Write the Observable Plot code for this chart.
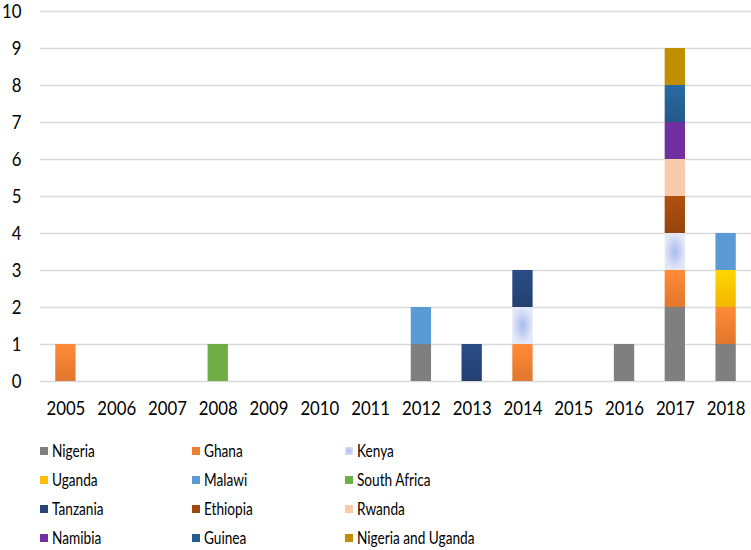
<!DOCTYPE html>
<html><head><meta charset="utf-8">
<script src="https://cdn.jsdelivr.net/npm/d3@7"></script>
<script src="https://cdn.jsdelivr.net/npm/@observablehq/plot@0.6"></script>
<style>
body{margin:0;background:#fff;font-family:"Lato",sans-serif;}
#legend{display:grid;grid-template-columns:152px 153px auto;padding-left:40px;margin-top:11px;}
.item{height:29px;display:flex;align-items:center;font-size:17.5px;color:#000;white-space:nowrap;}
.sw{width:8px;height:8px;margin-right:4px;display:inline-block;flex:none;}
.lbl{display:inline-block;transform:scaleX(0.78);transform-origin:left center;}
</style></head>
<body><div id="chart"></div><div id="legend"></div>
<script>
const years = ["2005","2006","2007","2008","2009","2010","2011","2012","2013","2014","2015","2016","2017","2018"];
const countries = ["Nigeria","Ghana","Kenya","Uganda","Malawi","South Africa","Tanzania","Ethiopia","Rwanda","Namibia","Guinea","Nigeria and Uganda"];
const colors = ["#7f7f7f","#ED7D31","#c9d4f3","#FFC000","#5B9BD5","#70AD47","#264478","#9E480E","#F8CBAD","#7030A0","#255E91","#BF8F00"];
// counts per year (2005..2018)
const nigeria          = [0,0,0,0,0,0,0,1,0,0,0,1,2,1];
const ghana            = [1,0,0,0,0,0,0,0,0,1,0,0,1,1];
const kenya            = [0,0,0,0,0,0,0,0,0,1,0,0,1,0];
const uganda           = [0,0,0,0,0,0,0,0,0,0,0,0,0,1];
const malawi           = [0,0,0,0,0,0,0,1,0,0,0,0,0,1];
const southAfrica      = [0,0,0,1,0,0,0,0,0,0,0,0,0,0];
const tanzania         = [0,0,0,0,0,0,0,0,1,1,0,0,0,0];
const ethiopia         = [0,0,0,0,0,0,0,0,0,0,0,0,1,0];
const rwanda           = [0,0,0,0,0,0,0,0,0,0,0,0,1,0];
const namibia          = [0,0,0,0,0,0,0,0,0,0,0,0,1,0];
const guinea           = [0,0,0,0,0,0,0,0,0,0,0,0,1,0];
const nigeriaUganda    = [0,0,0,0,0,0,0,0,0,0,0,0,1,0];
const yTicks = [0,1,2,3,4,5,6,7,8,9,10];

const series = [nigeria,ghana,kenya,uganda,malawi,southAfrica,tanzania,ethiopia,rwanda,namibia,guinea,nigeriaUganda];
const data = [];
countries.forEach((c,i)=>years.forEach((y,j)=>{ if(series[i][j]>0) data.push({year:y,country:c,value:series[i][j]}); }));

const gid = c => "g" + c.replace(/\s+/g,"_");
const fills = countries.map(c => `url(#${gid(c)})`);

const chart = Plot.plot({
  width: 751, height: 425,
  marginLeft: 40, marginRight: 0, marginTop: 11, marginBottom: 44,
  style: {fontFamily: '"Lato",sans-serif', fontSize: "19.5px", color: "#000"},
  x: {domain: years, paddingInner: 0.6, paddingOuter: 0.3, round: false, label: null, tickSize: 0, tickPadding: 20},
  y: {domain: [0,10], ticks: yTicks, label: null, tickSize: 0, tickPadding: 19, grid: false},
  color: {domain: countries, range: fills},
  marks: [
    Plot.ruleY(yTicks, {stroke: "#d9d9d9", strokeWidth: 1.3, strokeOpacity: 1}),
    Plot.barY(data, Plot.stackY({x: "year", y: "value", fill: "country", order: countries, style: "filter:url(#shadow)"})),
  ]
});
// gradients
const ns = "http://www.w3.org/2000/svg";
const defs = document.createElementNS(ns, "defs");
const light = (c,k) => d3.color(c).brighter(k).formatHex();
countries.forEach((c,i)=>{
  let g;
  if (c === "Kenya") {
    g = document.createElementNS(ns, "radialGradient");
    g.innerHTML = `<stop offset="0" stop-color="#a8bcef"/><stop offset="1" stop-color="#e3e8f8"/>`;
  } else {
    g = document.createElementNS(ns, "linearGradient");
    g.setAttribute("x1","0");g.setAttribute("y1","0");g.setAttribute("x2","0");g.setAttribute("y2","1");
    const flat = ["Nigeria","Malawi","Namibia","South Africa","Rwanda","Nigeria and Uganda"].includes(c);
    const top = flat ? colors[i] : light(colors[i], 0.3);
    const bot = flat ? colors[i] : d3.color(colors[i]).darker(0.15).formatHex();
    g.innerHTML = `<stop offset="0" stop-color="${top}"/><stop offset="1" stop-color="${bot}"/>`;
  }
  g.setAttribute("id", gid(c));
  defs.appendChild(g);
});
const f = document.createElementNS(ns, "filter");
f.setAttribute("id","shadow"); f.setAttribute("x","-20%"); f.setAttribute("y","-20%"); f.setAttribute("width","150%"); f.setAttribute("height","150%");
f.innerHTML = `<feDropShadow dx="1" dy="1" stdDeviation="1" flood-color="#000" flood-opacity="0.25"/>`;
defs.appendChild(f);
chart.insertBefore(defs, chart.firstChild);
document.getElementById("chart").appendChild(chart);
// narrow the axis glyphs a little (Calibri-like proportions)
chart.querySelectorAll('g[aria-label$="tick label"] text').forEach(t => {
  const w = t.getComputedTextLength();
  t.setAttribute("textLength", (w * 0.86).toFixed(1));
  t.setAttribute("lengthAdjust", "spacingAndGlyphs");
});

const lg = document.getElementById("legend");
countries.forEach((c,i)=>{
  const d = document.createElement("div"); d.className = "item";
  d.innerHTML = `<span class="sw" style="background:${c==="Kenya"?"radial-gradient(#a8bcef,#e3e8f8)":colors[i]}"></span><span class="lbl">${c}</span>`;
  lg.appendChild(d);
});
</script></body></html>
